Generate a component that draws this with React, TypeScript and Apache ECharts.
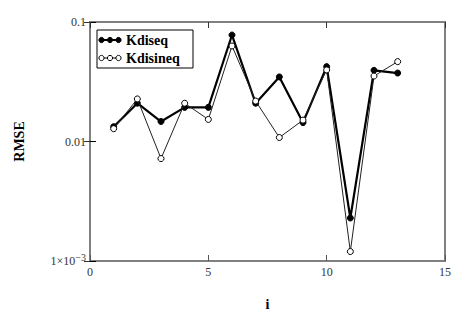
import React, { useEffect, useRef } from "react";
import * as echarts from "echarts";

const iValues = [1, 2, 3, 4, 5, 6, 7, 8, 9, 10, 11, 12, 13];
const kdiseq = [0.0133, 0.0209, 0.0147, 0.0193, 0.0193, 0.0778, 0.0209, 0.0347, 0.0144, 0.0423, 0.00229, 0.0394, 0.0374];
const kdisineq = [0.0128, 0.0227, 0.0072, 0.0209, 0.0153, 0.063, 0.0218, 0.0108, 0.0151, 0.0397, 0.0012, 0.0353, 0.0466];
const seriesNames = ["Kdiseq", "Kdisineq"];
const xTicks = { min: 0, max: 15, interval: 5 };
const yTicks = { min: 0.001, max: 0.1 };

const FONT = "Liberation Serif";

export default function App() {
  const ref = useRef<HTMLDivElement>(null);
  useEffect(() => {
    if (!ref.current) return;
    const chart = echarts.init(ref.current, undefined, { renderer: "svg" });
    const pairs = (ys: number[]) => iValues.map((x, k) => [x, ys[k]]);
    const yLabel = (v: number) => {
      if (Math.abs(v - 0.1) < 1e-9) return "0.1";
      if (Math.abs(v - 0.01) < 1e-10) return "0.01";
      if (Math.abs(v - 0.001) < 1e-11) return "1×10{sup|−3}";
      return "";
    };
    const lx = 97, ly = 30;
    const legendRow = (y: number, filled: boolean, name: string) => [
      { type: "line", shape: { x1: lx + 2, y1: y, x2: lx + 24, y2: y }, style: { stroke: "#000", lineWidth: filled ? 2 : 1 } },
      ...[lx + 4.5, lx + 13, lx + 21.5].map((cx) => ({
        type: "circle",
        shape: { cx, cy: y, r: 2.6 },
        style: { fill: filled ? "#000" : "#fff", stroke: "#000", lineWidth: 1 },
      })),
      {
        type: "text",
        x: lx + 29,
        y,
        style: { text: name, font: `bold 14px ${FONT}`, fill: "#000", textVerticalAlign: "middle" },
      },
    ];
    chart.setOption({
      animation: false,
      backgroundColor: "#fff",
      grid: { left: 90, right: 18, top: 22, bottom: 55, show: true, borderColor: "#808080", borderWidth: 2 },
      xAxis: [
        {
          type: "value",
          min: xTicks.min,
          max: xTicks.max,
          interval: xTicks.interval,
          name: "i",
          nameLocation: "middle",
          nameGap: 36,
          nameTextStyle: { fontFamily: FONT, fontWeight: "bold", fontSize: 14, color: "#000" },
          axisLine: { show: true, lineStyle: { color: "#808080", width: 2 } },
          axisTick: { show: true, inside: true, length: 6, lineStyle: { color: "#555", width: 1 } },
          axisLabel: { fontFamily: FONT, fontSize: 12, color: "#333", margin: 5 },
          splitLine: { show: false },
        },
        {
          type: "value",
          position: "top",
          min: xTicks.min,
          max: xTicks.max,
          interval: xTicks.interval,
          axisLine: { show: true, lineStyle: { color: "#808080", width: 2 } },
          axisTick: { show: true, inside: true, length: 6, lineStyle: { color: "#333", width: 1 } },
          axisLabel: { show: false },
          splitLine: { show: false },
        },
      ],
      yAxis: [
        {
          type: "log",
          logBase: 10,
          min: yTicks.min,
          max: yTicks.max,
          name: "RMSE",
          nameLocation: "middle",
          nameGap: 64,
          nameRotate: 90,
          nameTextStyle: { fontFamily: FONT, fontWeight: "bold", fontSize: 14, color: "#000" },
          axisLine: { show: true, lineStyle: { color: "#000", width: 1.5 } },
          axisTick: { show: true, inside: true, length: 6, lineStyle: { color: "#000", width: 1 } },
          minorTick: { show: false },
          axisLabel: {
            fontFamily: FONT,
            fontSize: 12,
            color: "#333",
            margin: 4,
            formatter: yLabel,
            rich: { sup: { fontFamily: FONT, fontSize: 10, color: "#333", verticalAlign: "top", padding: [0, 0, 7, 0] } },
          },
          splitLine: { show: false },
        },
        {
          type: "log",
          logBase: 10,
          position: "right",
          min: yTicks.min,
          max: yTicks.max,
          axisLine: { show: true, lineStyle: { color: "#808080", width: 2 } },
          axisTick: { show: true, inside: true, length: 6, lineStyle: { color: "#333", width: 1 } },
          axisLabel: { show: false },
          splitLine: { show: false },
        },
      ],
      series: [
        {
          name: seriesNames[0],
          type: "line",
          data: pairs(kdiseq),
          symbol: "circle",
          symbolSize: 6,
          itemStyle: { color: "#000", borderColor: "#000", borderWidth: 1 },
          lineStyle: { color: "#000", width: 2.2 },
          z: 2,
        },
        {
          name: seriesNames[1],
          type: "line",
          data: pairs(kdisineq),
          symbol: "circle",
          symbolSize: 6,
          itemStyle: { color: "#fff", borderColor: "#000", borderWidth: 1 },
          lineStyle: { color: "#222", width: 1 },
          z: 3,
        },
      ],
      graphic: [
        {
          type: "rect",
          shape: { x: lx, y: ly, width: 96, height: 38 },
          style: { fill: "#fff", stroke: "#000", lineWidth: 1 },
          z: 10,
        },
        ...legendRow(ly + 10, true, seriesNames[0]).map((e) => ({ ...e, z: 11 })),
        ...legendRow(ly + 28, false, seriesNames[1]).map((e) => ({ ...e, z: 11 })),
      ],
    });
    return () => chart.dispose();
  }, []);
  return <div ref={ref} style={{ position: "fixed", left: 0, top: 0, width: 463, height: 316 }} />;
}
